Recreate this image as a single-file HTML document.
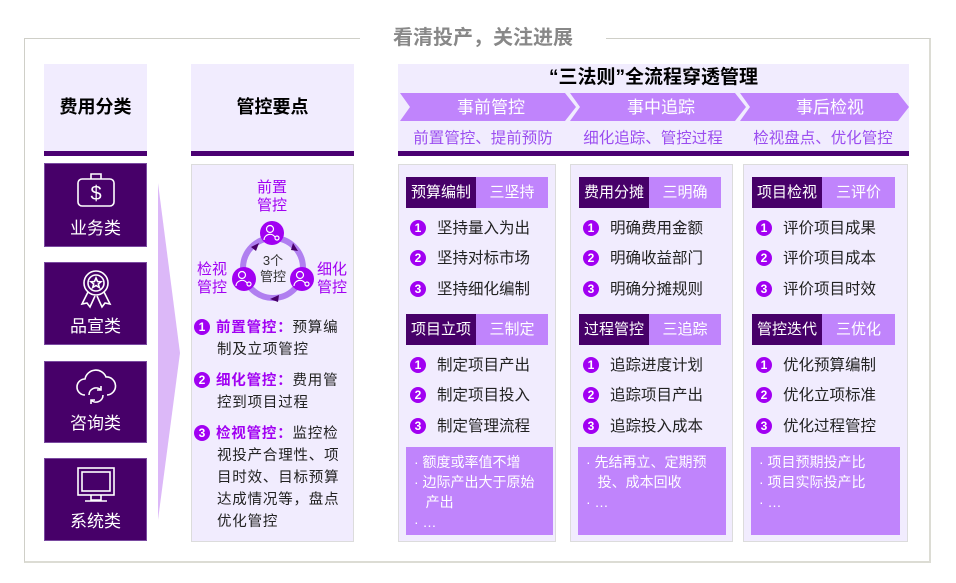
<!DOCTYPE html>
<html><head><meta charset="utf-8"><style>
*{margin:0;padding:0;box-sizing:border-box}
body{width:956px;height:583px;background:#fff;position:relative;overflow:hidden;font-family:"Liberation Sans","Noto Sans CJK SC",sans-serif;}
.a{position:absolute}
.hdr{background:#f1ecfe;border-bottom:5px solid #4b0072}
.cat{background:#470069;color:#fff;font-size:17px;text-align:center;border:1px solid #7a4aa0}
.card{background:#f1ecfe;border:1px solid #dcdcdc}
.tag{height:31px;display:flex;font-size:15px;color:#fff;line-height:31px}
.tag .d{background:#470069;width:70px;text-align:center}
.tag .l{background:#c084fc;flex:1;text-align:center}
.it{font-size:15.5px;color:#222;height:20px;line-height:20px;white-space:nowrap}
.n{display:inline-block;width:16px;height:16px;border-radius:50%;background:#a100f2;color:#fff;font-size:12px;line-height:16px;text-align:center;vertical-align:1px;margin-right:11px;font-weight:bold}
.box{background:#c084fc;color:#fff;font-size:14px;line-height:20px;padding:5px 6px 0 8px}
.p{color:#a100f2;font-size:15px;text-align:center;line-height:18px}
.pt{font-size:14.5px;color:#222;line-height:22px;letter-spacing:0.8px;white-space:nowrap}
.pt b{color:#a100f2}
</style></head><body>
<div class="a" style="left:24px;top:38px;width:907px;height:525px;border:1px solid #cfcfc8;border-bottom:2px solid #dcdcd4;border-right:2px solid #dcdcd4"></div>
<div class="a" style="left:360px;top:25px;width:246px;height:26px;background:#fff;color:#888;font-size:20px;font-weight:bold;text-align:center;line-height:26px">看清投产，关注进展</div>

<!-- col1 -->
<div class="a hdr" style="left:44px;top:64px;width:103px;height:92px;font-size:18px;font-weight:bold;text-align:center;line-height:86px">费用分类</div>
<div class="a cat" style="left:44px;top:163px;width:103px;height:84px">
<svg width="40" height="38" style="margin-top:7px" viewBox="0 0 40 38" fill="none" stroke="#fff" stroke-width="1.6"><rect x="2" y="8" width="36" height="27" rx="4"/><path d="M15 8V3h10v5"/><text x="20" y="29" font-size="20" fill="#fff" stroke="none" text-anchor="middle" font-family="Liberation Sans">$</text></svg>
<div style="margin-top:0px">业务类</div></div>
<div class="a cat" style="left:44px;top:262px;width:103px;height:83px">
<svg width="40" height="42" style="margin-top:5px" viewBox="0 0 40 42" fill="none" stroke="#fff" stroke-width="1.6"><circle cx="20" cy="15" r="12"/><circle cx="20" cy="15" r="8"/><path d="M12 24l-6 12 5-1 3 4 5-11M28 24l6 12-5-1-3 4-5-11"/><path d="M20 10l1.5 3.5 3.5.3-2.7 2.2 1 3.5-3.3-2-3.3 2 1-3.5-2.7-2.2 3.5-.3z"/></svg>
<div style="margin-top:-3px">品宣类</div></div>
<div class="a cat" style="left:44px;top:361px;width:103px;height:82px">
<svg width="42" height="40" style="margin-top:5px" viewBox="0 0 42 40" fill="none" stroke="#fff" stroke-width="1.6"><path d="M10 28a8 8 0 0 1 0-16 11 11 0 0 1 21-2 9 9 0 0 1 1 18"/><path d="M14 28a7 7 0 0 1 12-5M28 28a7 7 0 0 1-12 5"/><path d="M26 19v4h-4M16 37v-4h4"/></svg>
<div style="margin-top:-3px">咨询类</div></div>
<div class="a cat" style="left:44px;top:458px;width:103px;height:83px">
<svg width="42" height="40" style="margin-top:6px" viewBox="0 0 42 40" fill="none" stroke="#fff" stroke-width="1.6"><rect x="3" y="3" width="36" height="27"/><rect x="7" y="7" width="28" height="19"/><path d="M16 30v5h10v-5M10 36h22"/></svg>
<div style="margin-top:-3px">系统类</div></div>

<svg class="a" style="left:155px;top:175px" width="30" height="350"><polygon points="3,8 25,178 3,345" fill="#dcb8f8"/></svg>

<!-- col2 -->
<div class="a hdr" style="left:191px;top:64px;width:163px;height:92px;font-size:18px;font-weight:bold;text-align:center;line-height:86px">管控要点</div>
<div class="a card" style="left:191px;top:164px;width:163px;height:378px"></div>
<div class="a p" style="left:242px;top:179px;width:60px">前置<br>管控</div>
<div class="a p" style="left:182px;top:261px;width:60px">检视<br>管控</div>
<div class="a p" style="left:302px;top:261px;width:60px">细化<br>管控</div>
<svg class="a" style="left:230px;top:218px" width="90" height="90" viewBox="230 218 90 90">
<circle cx="273" cy="268" r="30" fill="none" stroke="#b07ff0" stroke-width="6"/>
<polygon points="251,247 259,243 256,251" fill="#470069"/>
<polygon points="293,243 298,251 291,250" fill="#470069"/>
<polygon points="270,299 279,295 278,302" fill="#470069"/>
<g fill="#a100f2"><circle cx="272" cy="233" r="12"/><circle cx="244" cy="279" r="12"/><circle cx="302" cy="279" r="12"/></g>
<g fill="none" stroke="#fff" stroke-width="1.2">
<circle cx="270" cy="229" r="3.5"/><path d="M264 240a6 6 0 0 1 11-3"/><circle cx="277" cy="238" r="2"/>
<circle cx="242" cy="275" r="3.5"/><path d="M236 286a6 6 0 0 1 11-3"/><circle cx="249" cy="284" r="2"/>
<circle cx="300" cy="275" r="3.5"/><path d="M294 286a6 6 0 0 1 11-3"/><circle cx="307" cy="284" r="2"/></g>
<text x="273" y="265" font-size="13" text-anchor="middle" fill="#333">3个</text>
<text x="273" y="281" font-size="13" text-anchor="middle" fill="#333">管控</text>
</svg>
<div class="a pt" style="left:194px;top:317px"><span class="n" style="margin-right:6px;letter-spacing:0">1</span><b>前置管控：</b>预算编<br><span style="padding-left:23px">制及立项管控</span></div>
<div class="a pt" style="left:194px;top:370px"><span class="n" style="margin-right:6px;letter-spacing:0">2</span><b>细化管控：</b>费用管<br><span style="padding-left:23px">控到项目过程</span></div>
<div class="a pt" style="left:194px;top:423px"><span class="n" style="margin-right:6px;letter-spacing:0">3</span><b>检视管控：</b>监控检<br><span style="padding-left:23px">视投产合理性、项</span><br><span style="padding-left:23px">目时效、目标预算</span><br><span style="padding-left:23px">达成情况等，盘点</span><br><span style="padding-left:23px">优化管控</span></div>

<!-- col3 header -->
<div class="a hdr" style="left:398px;top:64px;width:511px;height:92px"></div>
<div class="a" style="left:398px;top:66px;width:511px;text-align:center;font-size:19px;font-weight:bold;line-height:24px">“三法则”全流程穿透管理</div>
<svg class="a" style="left:398px;top:93px" width="512" height="29">
<g fill="#c084fc">
<polygon points="2,0 167,0 178,14 167,28 2,28 12,14"/>
<polygon points="172,0 337,0 348,14 337,28 172,28 182,14"/>
<polygon points="342,0 500,0 511,14 500,28 342,28 352,14"/></g>
<g fill="#fff" font-size="17" text-anchor="middle" font-family="Liberation Sans,Noto Sans CJK SC">
<text x="93" y="20">事前管控</text><text x="263" y="20">事中追踪</text><text x="432" y="20">事后检视</text></g>
</svg>
<div class="a" style="left:398px;top:126px;width:170px;text-align:center;color:#9b4df0;font-size:15.5px">前置管控、提前预防</div>
<div class="a" style="left:568px;top:126px;width:170px;text-align:center;color:#9b4df0;font-size:15.5px">细化追踪、管控过程</div>
<div class="a" style="left:738px;top:126px;width:170px;text-align:center;color:#9b4df0;font-size:15.5px">检视盘点、优化管控</div>

<!-- cards -->
<div class="a card" style="left:398px;top:164px;width:158px;height:378px"></div>
<div class="a card" style="left:570px;top:164px;width:163px;height:378px"></div>
<div class="a card" style="left:743px;top:164px;width:165px;height:378px"></div>

<div class="a tag" style="left:406px;top:177px;width:142px"><div class="d">预算编制</div><div class="l">三坚持</div></div>
<div class="a it" style="left:410px;top:219px"><span class="n">1</span>坚持量入为出</div>
<div class="a it" style="left:410px;top:249px"><span class="n">2</span>坚持对标市场</div>
<div class="a it" style="left:410px;top:280px"><span class="n">3</span>坚持细化编制</div>
<div class="a tag" style="left:406px;top:314px;width:142px"><div class="d">项目立项</div><div class="l">三制定</div></div>
<div class="a it" style="left:410px;top:356px"><span class="n">1</span>制定项目产出</div>
<div class="a it" style="left:410px;top:386px"><span class="n">2</span>制定项目投入</div>
<div class="a it" style="left:410px;top:417px"><span class="n">3</span>制定管理流程</div>
<div class="a box" style="left:406px;top:447px;width:147px;height:88px">· 额度或率值不增<br>· 边际产出大于原始<br>&nbsp;&nbsp;&nbsp;产出<br>· …</div>

<div class="a tag" style="left:579px;top:177px;width:142px"><div class="d">费用分摊</div><div class="l">三明确</div></div>
<div class="a it" style="left:583px;top:219px"><span class="n">1</span>明确费用金额</div>
<div class="a it" style="left:583px;top:249px"><span class="n">2</span>明确收益部门</div>
<div class="a it" style="left:583px;top:280px"><span class="n">3</span>明确分摊规则</div>
<div class="a tag" style="left:579px;top:314px;width:142px"><div class="d">过程管控</div><div class="l">三追踪</div></div>
<div class="a it" style="left:583px;top:356px"><span class="n">1</span>追踪进度计划</div>
<div class="a it" style="left:583px;top:386px"><span class="n">2</span>追踪项目产出</div>
<div class="a it" style="left:583px;top:417px"><span class="n">3</span>追踪投入成本</div>
<div class="a box" style="left:578px;top:447px;width:148px;height:88px">· 先结再立、定期预<br>&nbsp;&nbsp;&nbsp;投、成本回收<br>· …</div>

<div class="a tag" style="left:752px;top:177px;width:143px"><div class="d">项目检视</div><div class="l">三评价</div></div>
<div class="a it" style="left:756px;top:219px"><span class="n">1</span>评价项目成果</div>
<div class="a it" style="left:756px;top:249px"><span class="n">2</span>评价项目成本</div>
<div class="a it" style="left:756px;top:280px"><span class="n">3</span>评价项目时效</div>
<div class="a tag" style="left:752px;top:314px;width:143px"><div class="d">管控迭代</div><div class="l">三优化</div></div>
<div class="a it" style="left:756px;top:356px"><span class="n">1</span>优化预算编制</div>
<div class="a it" style="left:756px;top:386px"><span class="n">2</span>优化立项标准</div>
<div class="a it" style="left:756px;top:417px"><span class="n">3</span>优化过程管控</div>
<div class="a box" style="left:751px;top:447px;width:149px;height:88px">· 项目预期投产比<br>· 项目实际投产比<br>· …</div>
</body></html>
